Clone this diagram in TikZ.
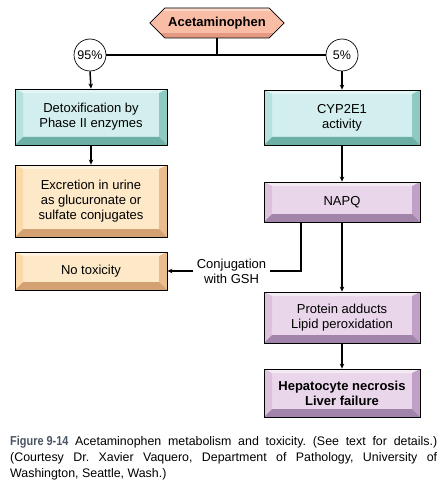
\documentclass[tikz,border=0pt]{standalone}
\usepackage{fontspec}
\setmainfont{Liberation Sans}
\usetikzlibrary{shapes.symbols, arrows.meta, positioning, calc}

\definecolor{tealface}{HTML}{D2EEEE}
\definecolor{tealtop}{HTML}{E2F5F4}
\definecolor{tealleft}{HTML}{B6E2DD}
\definecolor{tealright}{HTML}{8FCAC2}
\definecolor{tealbottom}{HTML}{6DAEA5}
\definecolor{tanface}{HTML}{FDE8C8}
\definecolor{tantop}{HTML}{FEF2DE}
\definecolor{tanleft}{HTML}{FBD9A8}
\definecolor{tanright}{HTML}{E9BD8E}
\definecolor{tanbottom}{HTML}{D4A272}
\definecolor{plumface}{HTML}{EAD6EA}
\definecolor{plumtop}{HTML}{F4EAF4}
\definecolor{plumleft}{HTML}{DCC2DC}
\definecolor{plumright}{HTML}{C0A0C6}
\definecolor{plumbottom}{HTML}{A283AA}
\definecolor{salmonface}{HTML}{F9BCA5}
\definecolor{salmondark}{HTML}{E49A82}
\definecolor{salmonlight}{HTML}{FCD8C8}
\definecolor{figgray}{HTML}{4A5563}

\tikzset{
  bevelled/.style n args={5}{draw=black, line width=0.8pt, fill=#1, align=center,
    font=\fontsize{13}{15}\selectfont,
    path picture={
      \coordinate (bsw) at (path picture bounding box.south west);
      \coordinate (bne) at (path picture bounding box.north east);
      \coordinate (btl) at (bsw|-bne);
      \coordinate (bbr) at (bne|-bsw);
      \coordinate (itl) at ($(btl)+(8pt,-4pt)$);
      \coordinate (itr) at ($(bne)+(-8pt,-4pt)$);
      \coordinate (ibl) at ($(bsw)+(8pt,8pt)$);
      \coordinate (ibr) at ($(bbr)+(-8pt,8pt)$);
      \fill[#2] (btl) -- (bne) -- (itr) -- (itl) -- cycle;
      \fill[#3] (btl) -- (itl) -- (ibl) -- (bsw) -- cycle;
      \fill[#4] (bne) -- (itr) -- (ibr) -- (bbr) -- cycle;
      \fill[#5] (bsw) -- (ibl) -- (ibr) -- (bbr) -- cycle;
    }},
  tealbox/.style={bevelled={tealface}{tealtop}{tealleft}{tealright}{tealbottom}},
  tanbox/.style={bevelled={tanface}{tantop}{tanleft}{tanright}{tanbottom}},
  plumbox/.style={bevelled={plumface}{plumtop}{plumleft}{plumright}{plumbottom}},
  hexa/.style={signal, signal to=west and east, draw=black, line width=0.8pt,
    fill=salmonface, minimum width=134pt, minimum height=30pt,
    font=\fontsize{13}{15}\selectfont\bfseries,
    path picture={
      \coordinate (hsw) at (path picture bounding box.south west);
      \coordinate (hne) at (path picture bounding box.north east);
      \fill[salmonlight] (hsw|-hne) rectangle ($(hne)+(0,-3pt)$);
      \fill[salmondark] (hsw) rectangle ($(hne|-hsw)+(0,5pt)$);
    }},
  pct/.style={circle, draw=black, line width=0.7pt, fill=white, minimum size=32pt,
    inner sep=0pt, font=\fontsize{12.5}{14}\selectfont},
  conn/.style={line width=1.5pt},
  arr/.style={conn, -{Stealth[length=5pt, width=4.5pt]}},
}

\begin{document}
\begin{tikzpicture}[x=1pt, y=-1pt]
    \useasboundingbox (0,0) rectangle (446,489);

    % Top: drug and the two routes
    \node[hexa] (acet) at (217,23) {Acetaminophen};
    \node[pct] (p95) at (90,55) {95\%};
    \node[pct] (p5) at (342,55) {5\%};
    \coordinate (split) at (acet.south |- p95.east);
    \draw[conn] (acet.south) -- (split);
    \draw[conn] (p95.east) -- (p5.west);

    % Left column: safe pathway
    \node[tealbox, minimum width=152pt, minimum height=56pt] (detox) at (91,117)
        {Detoxification by\\Phase II enzymes};
    \node[tanbox, minimum width=152pt, minimum height=72pt] (excr) at (91,201)
        {Excretion in urine\\as glucuronate or\\sulfate conjugates};
    \node[tanbox, minimum width=152pt, minimum height=38pt] (notox) at (91,271)
        {No toxicity};

    % Right column: toxic pathway
    \node[tealbox, minimum width=156pt, minimum height=55pt] (cyp) at (342,117.5)
        {CYP2E1\\activity};
    \node[plumbox, minimum width=156pt, minimum height=40pt] (napq) at (342,202)
        {NAPQ};
    \node[plumbox, minimum width=156pt, minimum height=51pt] (prot) at (342,317.5)
        {Protein adducts\\Lipid peroxidation};
    \node[plumbox, minimum width=156pt, minimum height=48pt] (hep) at (342,393)
        {\textbf{Hepatocyte necrosis}\\\textbf{Liver failure}};

    % GSH side branch
    \node[align=center, font=\fontsize{13}{15}\selectfont] (gsh) at (231.5,271)
        {Conjugation\\with GSH};
    \coordinate (gshtop) at ($(napq.south west)!0.237!(napq.south east)$);

    \draw[arr] (p95.south) -- (detox.north);
    \draw[arr] (detox.south) -- (excr.north);
    \draw[arr] (p5.south) -- (cyp.north);
    \draw[arr] (cyp.south) -- (napq.north);
    \draw[arr] (napq.south) -- (prot.north);
    \draw[arr] (prot.south) -- (hep.north);
    \draw[conn] (gshtop) |- (gsh.east);
    \draw[arr] (gsh.west) -- (notox.east);

    % Caption
    \node[anchor=north west, text width=427pt, align=justify, inner sep=0pt,
          font=\fontsize{12.4}{16}\selectfont\frenchspacing] (caption) at (10,436)
        {\textcolor{figgray}{\fontsize{13}{16}\selectfont\bfseries\scalebox{0.84}[1]{Figure 9-14}}
         Acetaminophen metabolism and toxicity. (See text for details.)\linebreak
         (Courtesy Dr.\ Xavier Vaquero, Department of Pathology, University of\linebreak
         Washington, Seattle, Wash.)};
\end{tikzpicture}
\end{document}
